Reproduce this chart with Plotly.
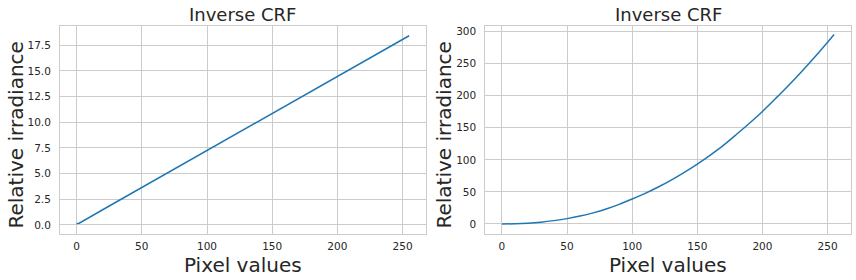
import plotly.graph_objects as go

# ---- data ----
left_x = [0, 2, 25, 50, 75, 100, 125, 150, 175, 200, 225, 255]
left_y = [0.15, 0.17, 1.85, 3.65, 5.45, 7.27, 9.07, 10.87, 12.67, 14.5, 16.3, 18.43]

right_x = [0, 10, 20, 30, 40, 50, 60, 70, 80, 90, 100, 110, 120, 130, 140,
           150, 160, 170, 180, 190, 200, 210, 220, 230, 240, 250, 255]
right_y = [0, 0.3, 1.2, 2.8, 5.2, 8.3, 12.3, 17.3, 23.3, 30.6, 39.0, 47.8, 57.7,
           68.5, 80.5, 93.5, 107.5, 122.5, 139.5, 157.0, 175.5, 195.5, 216.0,
           237.5, 260.0, 283.5, 295.5]

x_ticks = [0, 50, 100, 150, 200, 250]
left_yticks = [0, 2.5, 5, 7.5, 10, 12.5, 15, 17.5]
left_yticklabels = ["0.0", "2.5", "5.0", "7.5", "10.0", "12.5", "15.0", "17.5"]
right_yticks = [0, 50, 100, 150, 200, 250, 300]

title_text = "Inverse CRF"
xlabel = "Pixel values"
ylabel = "Relative irradiance"

W, H = 856, 280
LINE = "#1f77b4"
GRID = "#cccccc"
TXT = "#262626"
FONT = "DejaVu Sans"

ydom = [1 - 233.7 / H, 1 - 26.3 / H]
xdom1 = [60 / W, 425.7 / W]
xdom2 = [485.3 / W, 850.7 / W]

fig = go.Figure()
fig.add_trace(go.Scatter(x=left_x, y=left_y, mode="lines",
                         line=dict(color=LINE, width=1.5),
                         xaxis="x", yaxis="y", showlegend=False))
fig.add_trace(go.Scatter(x=right_x, y=right_y, mode="lines",
                         line=dict(color=LINE, width=1.5, shape="spline", smoothing=0.8),
                         xaxis="x2", yaxis="y2", showlegend=False))

axis_common = dict(showgrid=True, gridcolor=GRID, gridwidth=1, zeroline=False,
                   showline=True, linecolor=GRID, linewidth=1, mirror=True,
                   ticks="", tickfont=dict(family=FONT, size=10.5, color=TXT))

fig.update_layout(
    width=W, height=H,
    margin=dict(l=0, r=0, t=0, b=0),
    paper_bgcolor="white", plot_bgcolor="white",
    font=dict(family=FONT, color=TXT),
    xaxis=dict(domain=xdom1, anchor="y", range=[-12.75, 267.75],
               tickvals=x_ticks, ticklabelstandoff=3, **axis_common),
    yaxis=dict(domain=ydom, anchor="x", range=[-0.85, 19.35],
               tickvals=left_yticks, ticktext=left_yticklabels,
               ticklabelstandoff=6, **axis_common),
    xaxis2=dict(domain=xdom2, anchor="y2", range=[-12.75, 267.75],
                tickvals=x_ticks, ticklabelstandoff=3, **axis_common),
    yaxis2=dict(domain=ydom, anchor="x2", range=[-15.2, 308.3],
                tickvals=right_yticks, ticklabelstandoff=6, **axis_common),
)

annos = []
for cx, lx in [((xdom1[0] + xdom1[1]) / 2, 15.5 / W), ((xdom2[0] + xdom2[1]) / 2, 443.5 / W)]:
    annos.append(dict(text=title_text, x=cx, y=1 - 14.5 / H, xref="paper", yref="paper",
                      xanchor="center", yanchor="middle", showarrow=False,
                      font=dict(family=FONT, size=18, color=TXT)))
    annos.append(dict(text=xlabel, x=cx, y=1 - 265 / H, xref="paper", yref="paper",
                      xanchor="center", yanchor="middle", showarrow=False,
                      font=dict(family=FONT, size=20, color=TXT)))
    annos.append(dict(text=ylabel, x=lx, y=1 - 135 / H, xref="paper", yref="paper",
                      xanchor="center", yanchor="middle", showarrow=False, textangle=-90,
                      font=dict(family=FONT, size=20, color=TXT)))
fig.update_layout(annotations=annos)

fig.write_html("out.html")
